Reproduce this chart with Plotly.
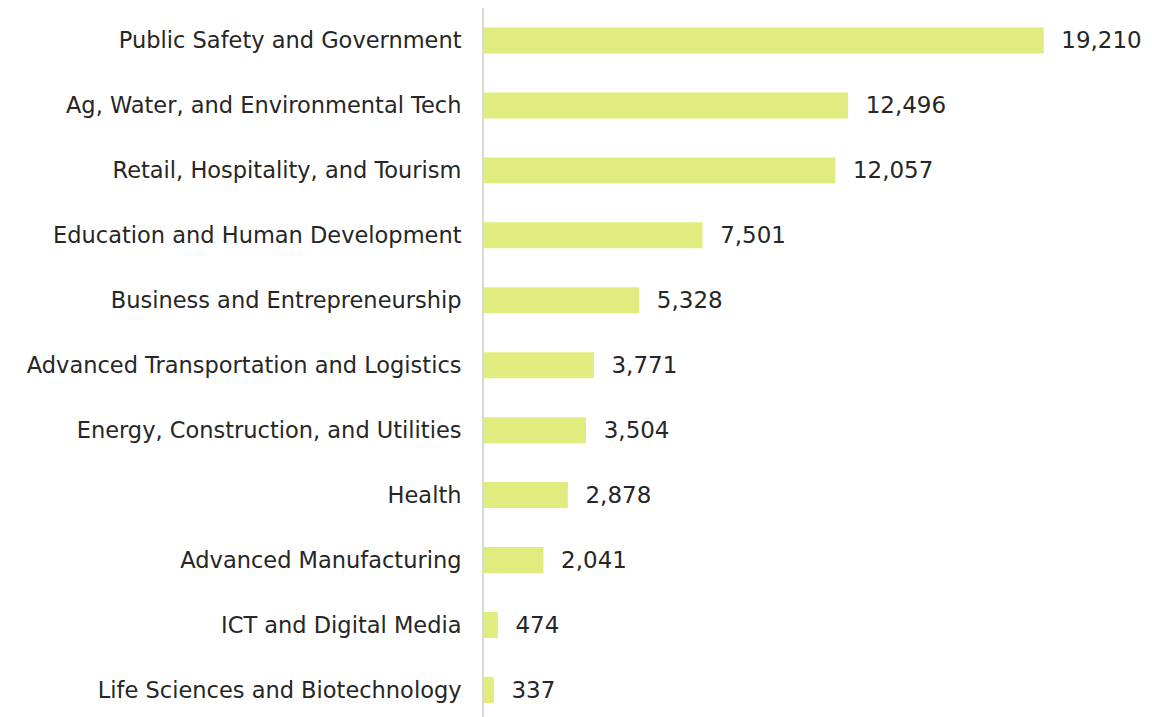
import plotly.graph_objects as go

categories = [
    "Public Safety and Government",
    "Ag, Water, and Environmental Tech",
    "Retail, Hospitality, and Tourism",
    "Education and Human Development",
    "Business and Entrepreneurship",
    "Advanced Transportation and Logistics",
    "Energy, Construction, and Utilities",
    "Health",
    "Advanced Manufacturing",
    "ICT and Digital Media",
    "Life Sciences and Biotechnology",
]
values = [19210, 12496, 12057, 7501, 5328, 3771, 3504, 2878, 2041, 474, 337]

cats = categories[::-1]
vals = values[::-1]

FONT = "DejaVu Sans"

fig = go.Figure(go.Bar(
    x=vals, y=cats, orientation="h",
    marker=dict(color="#E1EC7E", line=dict(width=0)),
    width=0.4,
    text=["  " + f"{v:,}" for v in vals],
    textposition="outside",
    textfont=dict(size=23, color="#262626", family=FONT),
    cliponaxis=False,
    hoverinfo="skip",
))

fig.update_layout(
    width=1152, height=717,
    margin=dict(l=476, r=35, t=0, b=0),
    plot_bgcolor="white", paper_bgcolor="white",
    showlegend=False,
    font=dict(family=FONT, size=22, color="#262626"),
    xaxis=dict(range=[0, 22000], visible=False, showgrid=False, zeroline=False),
    yaxis=dict(
        categoryorder="array", categoryarray=cats,
        range=[-0.54, 10.5],
        showline=True, linecolor="#D9D9D9", linewidth=2,
        ticks="", showgrid=False, zeroline=False,
        ticklabelstandoff=16,
        tickfont=dict(size=22.5, color="#262626", family=FONT),
    ),
)

fig.write_html("out.html")
